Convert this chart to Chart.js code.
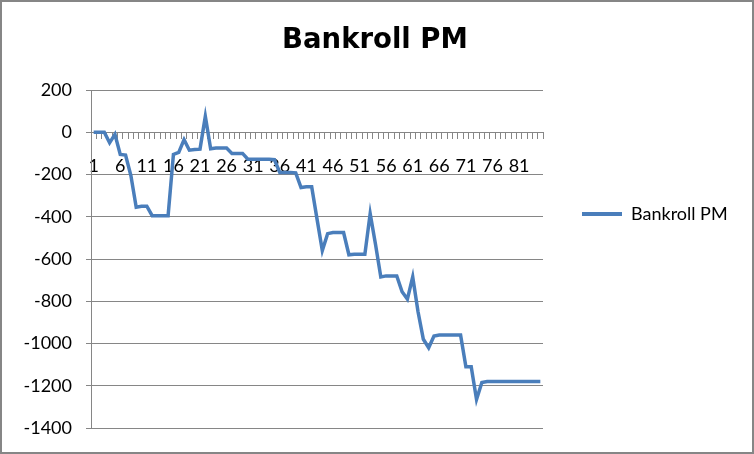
<!DOCTYPE html>
<html>
<head>
<meta charset="utf-8">
<script src="https://cdn.jsdelivr.net/npm/chart.js@4.4.0/dist/chart.umd.min.js"></script>
<style>
  html, body { margin: 0; padding: 0; background: #fff; }
  #wrap { width: 754px; height: 454px; }
</style>
</head>
<body>
<div id="wrap"><canvas id="myChart" width="754" height="454"></canvas></div>
<script>
// games played
const rounds = [1, 2, 3, 4, 5, 6, 7, 8, 9, 10, 11, 12, 13, 14, 15, 16, 17, 18, 19, 20,
  21, 22, 23, 24, 25, 26, 27, 28, 29, 30, 31, 32, 33, 34, 35, 36, 37, 38, 39, 40,
  41, 42, 43, 44, 45, 46, 47, 48, 49, 50, 51, 52, 53, 54, 55, 56, 57, 58, 59, 60,
  61, 62, 63, 64, 65, 66, 67, 68, 69, 70, 71, 72, 73, 74, 75, 76, 77, 78, 79, 80,
  81, 82, 83, 84, 85];

// bankroll after each round
const bankroll = [0, 0, 0, -50, -10, -105, -108, -205, -355, -350,
  -350, -395, -395, -395, -395, -105, -95, -35, -85, -82,
  -80, 75, -78, -75, -75, -75, -100, -100, -100, -128,
  -128, -128, -128, -128, -130, -190, -190, -190, -192, -262,
  -258, -258, -410, -560, -480, -475, -475, -475, -580, -578,
  -578, -578, -385, -530, -685, -680, -680, -680, -755, -790,
  -685, -850, -980, -1020, -965, -960, -960, -960, -960, -960,
  -1110, -1110, -1265, -1185, -1180, -1180, -1180, -1180, -1180, -1180,
  -1180, -1180, -1180, -1180, -1180];

const yMin = -1400;
const yMax = 200;
const yStep = 200;

const seriesName = 'Bankroll PM';
const lineBlue = '#4a7ebb';
const axisGray = '#868686';

// outer frame like the excel chart box
const frame = {
  id: 'frame',
  beforeDraw(chart) {
    const c = chart.ctx;
    c.save();
    c.fillStyle = '#fff';
    c.fillRect(0, 0, chart.width, chart.height);
    c.restore();
  },
  afterDraw(chart) {
    const c = chart.ctx;
    c.save();
    c.strokeStyle = axisGray;
    c.lineWidth = 2;
    c.strokeRect(1, 1, chart.width - 2, chart.height - 2);
    c.restore();
  }
};

const ctx = document.getElementById('myChart').getContext('2d');
const myLineChart = new Chart(ctx, {
  type: 'line',
  data: {
    labels: rounds,
    datasets: [{
      label: seriesName,
      data: bankroll,
      borderColor: lineBlue,
      backgroundColor: lineBlue,
      borderWidth: 3.5,
      tension: 0,
      pointRadius: 0,
      fill: false
    }]
  },
  options: {
    responsive: false,
    animation: false,
    devicePixelRatio: 1,
    layout: {
      padding: { left: 21, right: 25, top: 0, bottom: 26 }
    },
    plugins: {
      title: {
        display: true,
        text: seriesName,
        color: '#000',
        font: { family: 'DejaVu Sans', size: 27.5, weight: 'bold' },
        padding: { top: 24, bottom: 33 }
      },
      legend: {
        position: 'right',
        maxWidth: 186,
        labels: {
          boxWidth: 40,
          boxHeight: 4,
          padding: 39,
          color: '#000',
          font: { family: 'Lato', size: 18 },
          generateLabels(chart) {
            const items = Chart.defaults.plugins.legend.labels.generateLabels(chart);
            items.forEach(function (it) {
              it.lineWidth = 0;
              it.fillStyle = lineBlue;
            });
            return items;
          }
        }
      },
      tooltip: { enabled: false }
    },
    scales: {
      x: {
        type: 'category',
        position: { y: 0 },
        offset: true,
        grid: {
          offset: true,
          drawOnChartArea: false,
          drawTicks: true,
          tickLength: 6,
          color: axisGray
        },
        border: { display: true, color: axisGray, width: 1 },
        ticks: {
          autoSkip: false,
          maxRotation: 0,
          padding: 17,
          color: '#000',
          font: { family: 'Lato', size: 18 },
          callback: function (val, index) {
            return index % 5 === 0 ? this.getLabelForValue(val) : '';
          }
        }
      },
      y: {
        min: yMin,
        max: yMax,
        afterFit(scale) { scale.width = 70; },
        grid: {
          color: axisGray,
          drawTicks: true,
          tickLength: 5
        },
        border: { display: true, color: axisGray, width: 1 },
        ticks: {
          stepSize: yStep,
          padding: 14,
          color: '#000',
          font: { family: 'Lato', size: 18 },
          callback: function (val) { return String(val); }
        }
      }
    }
  },
  plugins: [frame]
});
</script>
</body>
</html>
